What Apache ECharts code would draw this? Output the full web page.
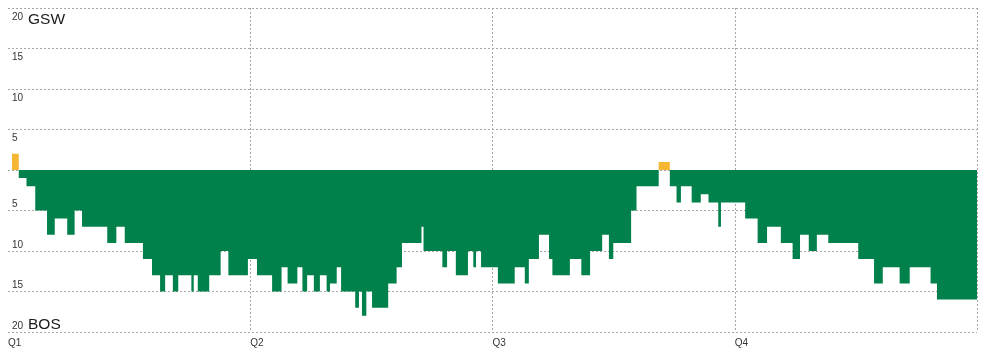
<!DOCTYPE html>
<html>
<head>
<meta charset="utf-8">
<script src="https://cdn.jsdelivr.net/npm/echarts@6/dist/echarts.min.js"></script>
<style>
html,body{margin:0;padding:0;background:#fff;}
#chart{width:984px;height:358px;}
</style>
</head>
<body>
<div id="chart"></div>
<script>
// Game flow: seconds elapsed when the margin changed, and the margin from then on
// (positive = GSW lead, negative = BOS lead)
const changeSeconds = [0, 12, 32, 55, 81, 116, 139, 176, 198, 220, 295, 322, 347, 401, 428, 452, 467, 490, 506, 545, 552, 564, 598, 632, 655, 713,
  740, 785, 813, 831, 860, 875, 889, 909, 927, 947, 957, 977, 990, 1032, 1043, 1052, 1065, 1082, 1130, 1155, 1171, 1229, 1235, 1291, 1305, 1331, 1367, 1383, 1391, 1406,
  1456, 1506, 1536, 1548, 1578, 1608, 1618, 1670, 1704, 1730, 1766, 1786, 1799, 1852, 1868, 1934, 1967, 1987, 2000, 2032, 2059, 2082, 2111, 2119,
  2191, 2228, 2256, 2297, 2332, 2354, 2380, 2404, 2438, 2527, 2574, 2600, 2650, 2680, 2742, 2761];
const margins = [0, 2, -1, -2, -5, -8, -6, -8, -5, -7, -9, -7, -9, -11, -13, -15, -13, -15, -13, -15, -13, -15, -13, -10, -13, -11,
  -13, -15, -12, -14, -12, -15, -13, -15, -13, -15, -14, -12, -15, -17, -15, -18, -15, -17, -14, -12, -9, -7, -10, -12, -10, -13, -10, -12, -10, -12,
  -14, -12, -14, -11, -8, -11, -13, -11, -13, -10, -8, -11, -9, -5, -2, 1, -2, -4, -2, -4, -3, -4, -7, -4,
  -6, -9, -7, -9, -11, -8, -10, -8, -9, -11, -14, -12, -14, -12, -14, -16];
const gameEndSeconds = 2880;
const quarterLabels = ['Q1', 'Q2', 'Q3', 'Q4'];
const topTeam = 'GSW';
const bottomTeam = 'BOS';

const pts = changeSeconds.map((t, i) => [t, margins[i]]);
pts.push([gameEndSeconds, margins[margins.length - 1]]);
const posData = pts.map(p => [p[0], Math.max(p[1], 0)]);
const negData = pts.map(p => [p[0], Math.min(p[1], 0)]);

const FONT = '"Liberation Sans", Arial, sans-serif';
const grid = {left: 8, right: 7, top: 8, bottom: 26};
const dotted = {color: '#a6a6a6', width: 1, type: [2, 2]};

const chart = echarts.init(document.getElementById('chart'), null, {renderer: 'canvas'});
chart.setOption({
  animation: false,
  backgroundColor: '#ffffff',
  textStyle: {fontFamily: FONT},
  grid: grid,
  title: [
    {text: topTeam, left: 28, top: 12, padding: 0, textStyle: {fontFamily: FONT, fontSize: 15.5, fontWeight: 'normal', color: '#1a1a1a'}},
    {text: bottomTeam, left: 28, top: 317, padding: 0, textStyle: {fontFamily: FONT, fontSize: 15.5, fontWeight: 'normal', color: '#1a1a1a'}}
  ],
  xAxis: {
    type: 'value', min: 0, max: gameEndSeconds, interval: 720,
    axisLine: {show: false}, axisTick: {show: false},
    axisLabel: {
      fontFamily: FONT, fontSize: 10, color: '#333', margin: 6, align: 'left',
      showMaxLabel: false,
      formatter: v => quarterLabels[Math.round(v / 720)] || ''
    },
    splitLine: {show: true, showMinLine: false, lineStyle: dotted}
  },
  yAxis: [
    {
      type: 'value', min: -20, max: 20, interval: 5, position: 'left',
      axisLine: {show: false}, axisTick: {show: false},
      axisLabel: {inside: true, margin: 4, fontFamily: FONT, fontSize: 10, color: '#333', verticalAlign: 'top',
        padding: [4, 0, 0, 0],
        formatter: v => v > 0 ? String(v) : ''},
      splitLine: {show: true, lineStyle: dotted}
    },
    {
      type: 'value', min: -20, max: 20, interval: 5, position: 'left',
      axisLine: {show: false}, axisTick: {show: false},
      axisLabel: {inside: true, margin: 4, fontFamily: FONT, fontSize: 10, color: '#333', verticalAlign: 'bottom',
        padding: [0, 0, 1, 0],
        formatter: v => v < 0 ? String(-v) : ''},
      splitLine: {show: false}
    }
  ],
  series: [
    {type: 'line', step: 'end', data: negData, yAxisIndex: 0, symbol: 'none', silent: true,
      lineStyle: {width: 0}, areaStyle: {color: '#00804a', opacity: 1, origin: 'auto'}},
    {type: 'line', step: 'end', data: posData, yAxisIndex: 0, symbol: 'none', silent: true,
      lineStyle: {width: 0}, areaStyle: {color: '#f5b731', opacity: 1, origin: 'auto'}}
  ]
});
</script>
</body>
</html>
